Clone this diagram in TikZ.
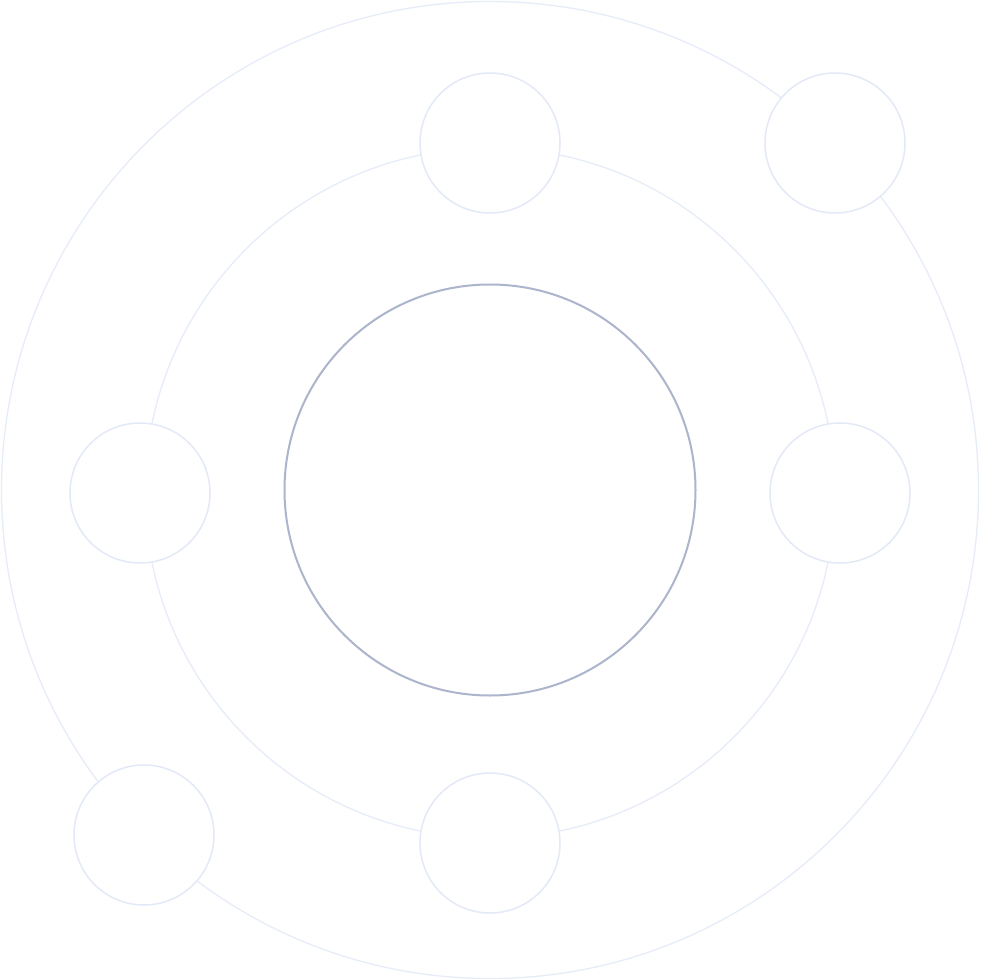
\documentclass[tikz,border=0pt]{standalone}
\begin{document}
\begin{tikzpicture}[x=1pt,y=-1pt,
  orbit/.style={draw=orbitc, line width=1.3pt},
  sat/.style={circle, draw=satc, line width=1.5pt, fill=white, minimum size=140pt, inner sep=0pt},
  core/.style={circle, draw=corec, line width=2pt, fill=white, minimum size=411pt, inner sep=0pt}]
\definecolor{orbitc}{HTML}{E6ECF8}
\definecolor{satc}{HTML}{E3E9F7}
\definecolor{corec}{HTML}{ACB5CB}
\useasboundingbox (0,0) rectangle (980,980);
\fill[white] (0,0) rectangle (980,980);
\coordinate (c) at (490,490);
\coordinate (m) at (490,493);
\draw[orbit] (c) circle[radius=488.5];
\draw[orbit] (m) circle[radius=345];
\node[core] (center) at (490,490) {};
\node[sat] (top) at (490,143) {};
\node[sat] (bottom) at (490,843) {};
\node[sat] (left) at (140,493) {};
\node[sat] (right) at (840,493) {};
\node[sat] (topright) at (835,143) {};
\node[sat] (bottomleft) at (144,835) {};
\end{tikzpicture}
\end{document}
